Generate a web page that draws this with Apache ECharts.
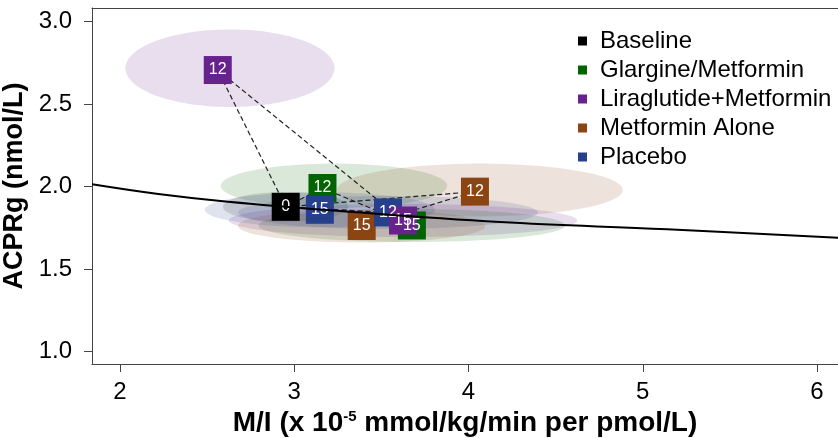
<!DOCTYPE html>
<html>
<head>
<meta charset="utf-8">
<script src="https://cdn.jsdelivr.net/npm/echarts@6/dist/echarts.min.js"></script>
<style>
	html, body { margin: 0; padding: 0; background: #fff; }
	#chart { width: 838px; height: 438px; }
</style>
</head>
<body>
<div id="chart"></div>
<script>
// groups in legend order
var groupNames = ['Glargine/Metformin', 'Liraglutide+Metformin', 'Metformin Alone', 'Placebo'];
var groupColors = ['#006400', '#68228B', '#8B4513', '#27408B'];

// baseline point
var baselineX = 2.951;
var baselineY = 1.878;

// week 12 and week 15 points, same order as groupNames
var week12X = [3.162, 2.561, 4.037, 3.538];
var week12Y = [1.992, 2.707, 1.970, 1.844];
var week15X = [3.675, 3.624, 3.387, 3.147];
var week15Y = [1.765, 1.795, 1.762, 1.860];
var weekLabels = ['12', '15'];

// shaded regions: baseline, then week 12 groups, then week 15 groups
var ellipseX  = [2.951, 3.228, 2.631, 4.065, 3.538, 3.675, 3.624, 3.387, 3.147];
var ellipseY  = [1.878, 2.005, 2.718, 1.980, 1.844, 1.765, 1.795, 1.762, 1.860];
var ellipseRX = [0.36, 0.65, 0.60, 0.82, 0.86, 0.88, 1.00, 0.71, 0.66];
var ellipseRY = [0.09, 0.135, 0.235, 0.16, 0.10, 0.10, 0.10, 0.10, 0.106];

// fitted curve
var fitX = [1.84, 2.22, 2.62, 3.26, 4.18, 5.14, 6.13];
var fitY = [2.015, 1.956, 1.909, 1.853, 1.786, 1.742, 1.690];

var font = 'Liberation Sans';

var chart = echarts.init(document.getElementById('chart'));

// fills: baseline grey, then the group colours for week 12 and week 15
var fillColors = ['rgba(0,0,0,0.13)'];
var g;
for (g = 0; g < 4; g++) fillColors.push(echarts.color.modifyAlpha(groupColors[g], 0.15));
for (g = 0; g < 4; g++) fillColors.push(echarts.color.modifyAlpha(groupColors[g], 0.15));

var ellipseData = [];
for (var i = 0; i < ellipseX.length; i++) {
	ellipseData.push([ellipseX[i], ellipseY[i], ellipseRX[i], ellipseRY[i]]);
}

function renderEllipse(params, api) {
	var cx = api.value(0), cy = api.value(1), rx = api.value(2), ry = api.value(3);
	var pts = [];
	for (var k = 0; k < 90; k++) {
		var t = k / 90 * Math.PI * 2;
		pts.push(api.coord([cx + rx * Math.cos(t), cy + ry * Math.sin(t)]));
	}
	return {
		type: 'polygon',
		shape: { points: pts },
		style: { fill: fillColors[params.dataIndex], stroke: null }
	};
}

var labelStyle = {
	show: true,
	position: 'inside',
	color: '#fff',
	fontSize: 16,
	fontFamily: font,
	formatter: function(p) { return p.data[2]; }
};

var series = [
	{
		name: 'regions',
		type: 'custom',
		renderItem: renderEllipse,
		data: ellipseData,
		silent: true,
		z: 0
	}
];

// dashed paths baseline -> 12 -> 15
for (g = 0; g < 4; g++) {
	series.push({
		name: 'path ' + groupNames[g],
		type: 'line',
		symbol: 'none',
		silent: true,
		z: 1,
		lineStyle: { color: '#222', width: 1.2, type: [5, 3] },
		data: [[baselineX, baselineY], [week12X[g], week12Y[g]], [week15X[g], week15Y[g]]]
	});
}

// markers (drawing order chosen to match overlap)
series.push({
	name: 'Baseline',
	type: 'scatter',
	symbol: 'rect',
	symbolSize: 28,
	itemStyle: { color: '#000', opacity: 1 },
	label: labelStyle,
	z: 2,
	data: [[baselineX, baselineY, '0']]
});
var drawOrder = [0, 2, 3, 1];
drawOrder.forEach(function(k) {
	series.push({
		name: groupNames[k],
		type: 'scatter',
		symbol: 'rect',
		symbolSize: 28,
		itemStyle: { color: groupColors[k], opacity: 1 },
		label: labelStyle,
		z: 2,
		data: [
			[week12X[k], week12Y[k], weekLabels[0]],
			[week15X[k], week15Y[k], weekLabels[1]]
		]
	});
});

series.push({
	name: 'fit',
	type: 'line',
	symbol: 'none',
	smooth: 0.4,
	silent: true,
	z: 3,
	lineStyle: { color: '#000', width: 2 },
	data: fitX.map(function(x, j) { return [x, fitY[j]]; })
});

var xMin = 1.8393, xMax = 6.1205;
var axisColor = '#444';

var option = {
	animation: false,
	backgroundColor: '#fff',
	grid: { left: 92, right: 0, top: 8, bottom: 74, outerBoundsMode: 'none' },
	legend: {
		data: ['Baseline'].concat(groupNames),
		orient: 'vertical',
		left: 573,
		top: 24,
		icon: 'rect',
		itemWidth: 9,
		itemHeight: 9,
		itemGap: 5,
		textStyle: { fontSize: 24, lineHeight: 24, color: '#000', fontFamily: font, padding: [0, 0, 0, 8] }
	},
	xAxis: [
		{
			type: 'value',
			min: xMin,
			max: xMax,
			splitLine: { show: false },
			axisLine: { show: true, onZero: false, lineStyle: { color: axisColor, width: 1 } },
			axisTick: { show: true, length: 8, lineStyle: { color: axisColor }, customValues: [2, 3, 4, 5, 6] },
			axisLabel: { color: '#000', fontSize: 24, fontFamily: font, margin: 16, customValues: [2, 3, 4, 5, 6] },
			name: 'M/I (x 10{sup|-5} mmol/kg/min per pmol/L)',
			nameLocation: 'middle',
			nameGap: 40,
			nameTextStyle: {
				color: '#000', fontSize: 28, fontWeight: 'bold', fontFamily: font,
				rich: { sup: { fontSize: 15, fontWeight: 'bold', fontFamily: font, color: '#000', verticalAlign: 'top', padding: [0, 0, 12, 0] } }
			}
		},
		{
			// top edge of the frame
			type: 'value',
			position: 'top',
			min: xMin,
			max: xMax,
			splitLine: { show: false },
			axisLine: { show: true, onZero: false, lineStyle: { color: axisColor, width: 1 } },
			axisTick: { show: false },
			axisLabel: { show: false }
		}
	],
	yAxis: {
		type: 'value',
		min: 0.9255,
		max: 3.083,
		splitLine: { show: false },
		axisLine: { show: true, onZero: false, lineStyle: { color: axisColor, width: 1 } },
		axisTick: { show: true, length: 8, lineStyle: { color: axisColor }, customValues: [1, 1.5, 2, 2.5, 3] },
		axisLabel: {
			color: '#000', fontSize: 24, fontFamily: font, margin: 20,
			customValues: [1, 1.5, 2, 2.5, 3],
			formatter: function(v) { return v.toFixed(1); }
		},
		name: 'ACPRg (nmol/L)',
		nameLocation: 'middle',
		nameGap: 52,
		nameTextStyle: { color: '#000', fontSize: 27, fontWeight: 'bold', fontFamily: font }
	},
	series: series
};
chart.setOption(option);
</script>
</body>
</html>
